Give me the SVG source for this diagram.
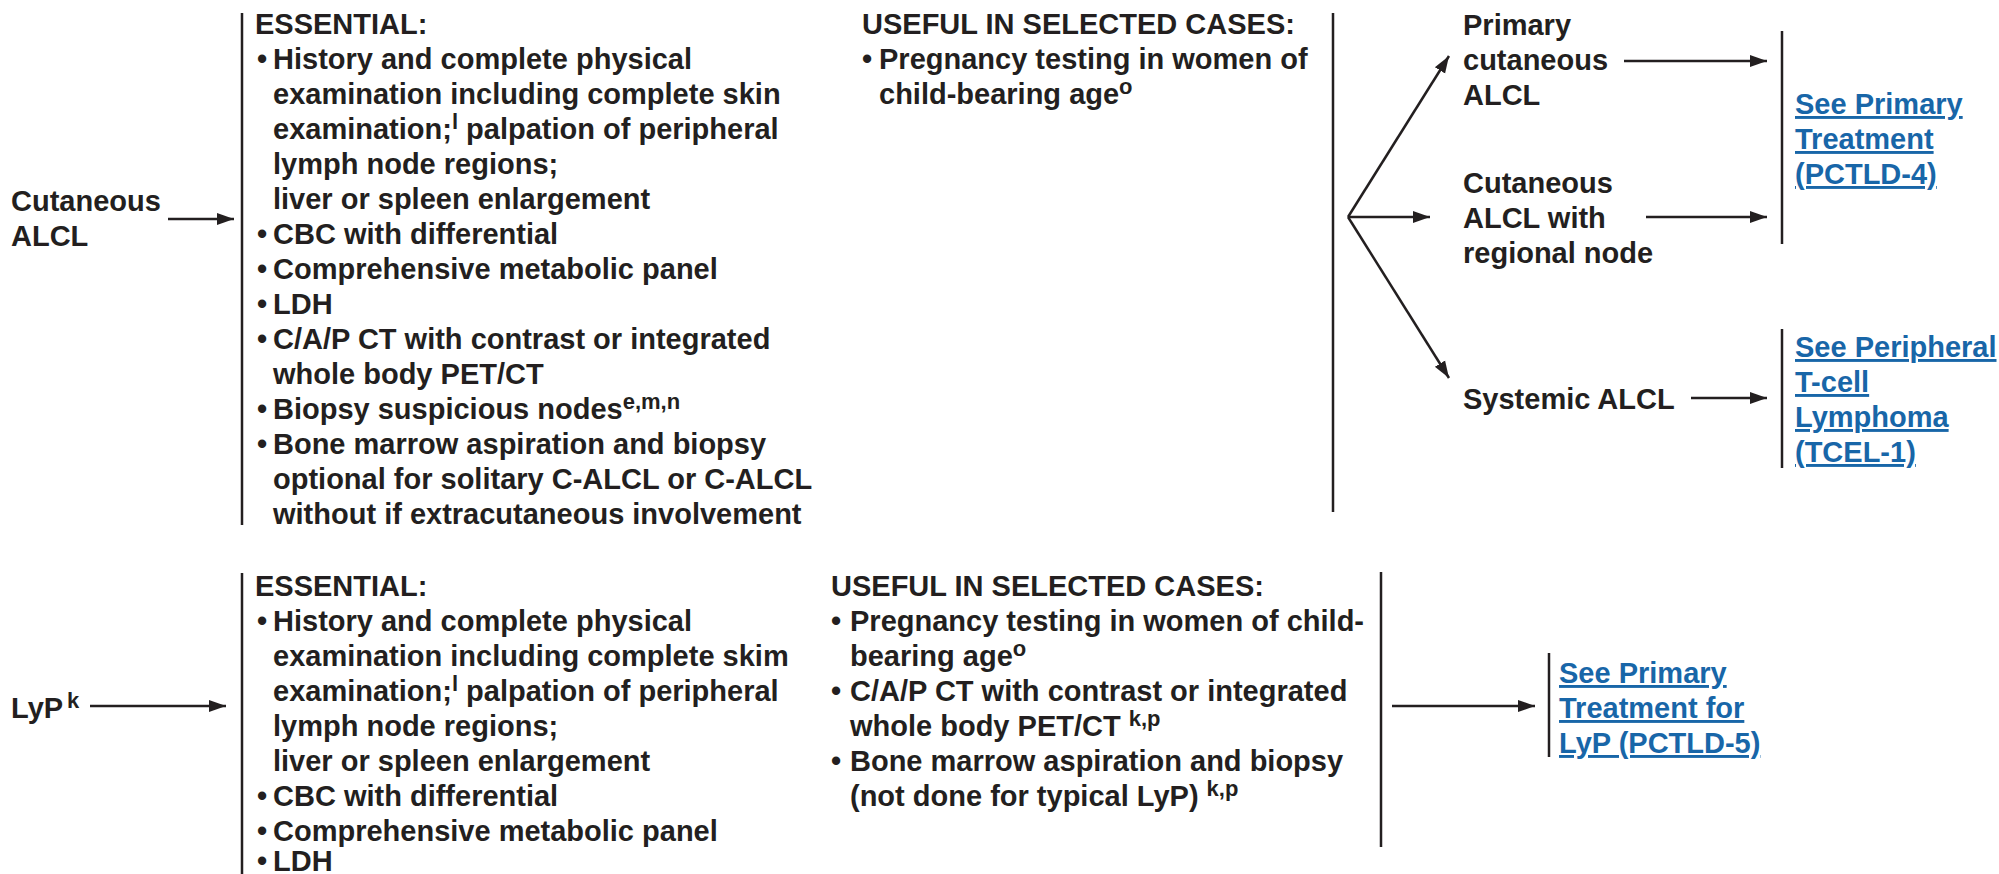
<svg xmlns="http://www.w3.org/2000/svg" width="1999" height="874" viewBox="0 0 1999 874">
<defs>
<style>
text{font-family:"Liberation Sans",Arial,sans-serif;font-weight:bold;font-size:29px;fill:#231f20}
.sup{font-size:22px}
.link{fill:#1866a8;text-decoration:underline}
.ln{stroke:#231f20;stroke-width:2.5;fill:none}
.ar{stroke:#231f20;stroke-width:2.5;fill:none;marker-end:url(#ah)}
</style>
<marker id="ah" markerUnits="userSpaceOnUse" markerWidth="18" markerHeight="14" refX="17" refY="7" orient="auto">
<path d="M0,1 L17,7 L0,13 z" fill="#231f20"/>
</marker>
</defs>
<rect width="1999" height="874" fill="#ffffff"/>

<g id="connectors">
<line class="ar" x1="168" y1="219" x2="234" y2="219"/>
<line class="ar" x1="1348" y1="217" x2="1449" y2="56"/>
<line class="ar" x1="1348" y1="217" x2="1430" y2="217"/>
<line class="ar" x1="1348" y1="217" x2="1449" y2="378"/>
<line class="ar" x1="1624" y1="61" x2="1767" y2="61"/>
<line class="ar" x1="1646" y1="217" x2="1767" y2="217"/>
<line class="ar" x1="1691" y1="398" x2="1767" y2="398"/>
<line class="ar" x1="90" y1="706" x2="226" y2="706"/>
<line class="ar" x1="1392" y1="706" x2="1535" y2="706"/>
</g>

<g id="brackets">
<line class="ln" x1="242" y1="13" x2="242" y2="525"/>
<line class="ln" x1="1333" y1="13" x2="1333" y2="512"/>
<line class="ln" x1="1782" y1="31" x2="1782" y2="244"/>
<line class="ln" x1="1782" y1="329" x2="1782" y2="468"/>
<line class="ln" x1="242" y1="573" x2="242" y2="874"/>
<line class="ln" x1="1381" y1="572" x2="1381" y2="847"/>
<line class="ln" x1="1549" y1="653" x2="1549" y2="757"/>
</g>

<g id="cutaneous-alcl">
<text x="11" y="211">Cutaneous</text>
<text x="11" y="246">ALCL</text>
</g>

<g id="essential-1">
<text x="255" y="34">ESSENTIAL:</text>
<text x="257" y="69">•</text><text x="273" y="69">History and complete physical</text>
<text x="273" y="104">examination including complete skin</text>
<text x="273" y="139">examination;<tspan class="sup" dy="-10">l</tspan><tspan dy="10"> palpation of peripheral</tspan></text>
<text x="273" y="174">lymph node regions;</text>
<text x="273" y="209">liver or spleen enlargement</text>
<text x="257" y="244">•</text><text x="273" y="244">CBC with differential</text>
<text x="257" y="279">•</text><text x="273" y="279">Comprehensive metabolic panel</text>
<text x="257" y="314">•</text><text x="273" y="314">LDH</text>
<text x="257" y="349">•</text><text x="273" y="349">C/A/P CT with contrast or integrated</text>
<text x="273" y="384">whole body PET/CT</text>
<text x="257" y="419">•</text><text x="273" y="419">Biopsy suspicious nodes<tspan class="sup" dy="-10">e,m,n</tspan></text>
<text x="257" y="454">•</text><text x="273" y="454">Bone marrow aspiration and biopsy</text>
<text x="273" y="489">optional for solitary C-ALCL or C-ALCL</text>
<text x="273" y="524">without if extracutaneous involvement</text>
</g>

<g id="useful-1">
<text x="862" y="34">USEFUL IN SELECTED CASES:</text>
<text x="862" y="69">•</text><text x="879" y="69">Pregnancy testing in women of</text>
<text x="879" y="104">child-bearing age<tspan class="sup" dy="-10">o</tspan></text>
</g>

<g id="primary-cutaneous-alcl">
<text x="1463" y="35">Primary</text>
<text x="1463" y="70">cutaneous</text>
<text x="1463" y="105">ALCL</text>
</g>

<g id="cutaneous-alcl-regional">
<text x="1463" y="193">Cutaneous</text>
<text x="1463" y="228">ALCL with</text>
<text x="1463" y="263">regional node</text>
</g>

<g id="systemic-alcl">
<text x="1463" y="409">Systemic ALCL</text>
</g>

<g id="link-pctld4">
<text class="link" x="1795" y="114">See Primary</text>
<text class="link" x="1795" y="149">Treatment</text>
<text class="link" x="1795" y="184">(PCTLD-4)</text>
</g>

<g id="link-tcel1">
<text class="link" x="1795" y="357">See Peripheral</text>
<text class="link" x="1795" y="392">T-cell</text>
<text class="link" x="1795" y="427">Lymphoma</text>
<text class="link" x="1795" y="462">(TCEL-1)</text>
</g>

<g id="lyp">
<text x="11" y="718">LyP</text>
<text class="sup" x="67" y="708">k</text>
</g>

<g id="essential-2">
<text x="255" y="596">ESSENTIAL:</text>
<text x="257" y="631">•</text><text x="273" y="631">History and complete physical</text>
<text x="273" y="666">examination including complete skim</text>
<text x="273" y="701">examination;<tspan class="sup" dy="-10">l</tspan><tspan dy="10"> palpation of peripheral</tspan></text>
<text x="273" y="736">lymph node regions;</text>
<text x="273" y="771">liver or spleen enlargement</text>
<text x="257" y="806">•</text><text x="273" y="806">CBC with differential</text>
<text x="257" y="841">•</text><text x="273" y="841">Comprehensive metabolic panel</text>
<text x="257" y="871">•</text><text x="273" y="871">LDH</text>
</g>

<g id="useful-2">
<text x="831" y="596">USEFUL IN SELECTED CASES:</text>
<text x="831" y="631">•</text><text x="850" y="631">Pregnancy testing in women of child-</text>
<text x="850" y="666">bearing age<tspan class="sup" dy="-10">o</tspan></text>
<text x="831" y="701">•</text><text x="850" y="701">C/A/P CT with contrast or integrated</text>
<text x="850" y="736">whole body PET/CT <tspan class="sup" dy="-10">k,p</tspan></text>
<text x="831" y="771">•</text><text x="850" y="771">Bone marrow aspiration and biopsy</text>
<text x="850" y="806">(not done for typical LyP) <tspan class="sup" dy="-10">k,p</tspan></text>
</g>

<g id="link-pctld5">
<text class="link" x="1559" y="683">See Primary</text>
<text class="link" x="1559" y="718">Treatment for</text>
<text class="link" x="1559" y="753">LyP (PCTLD-5)</text>
</g>
</svg>
